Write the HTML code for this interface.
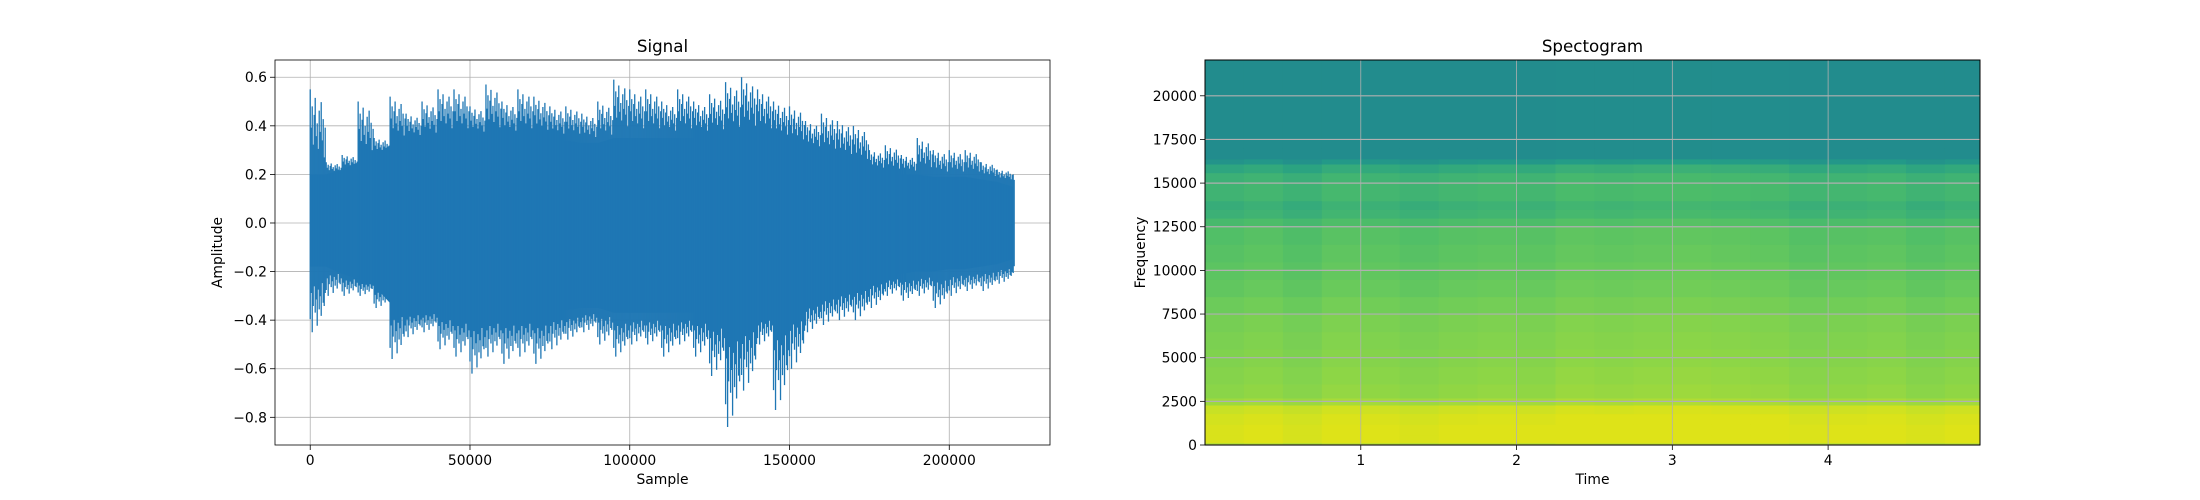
<!DOCTYPE html>
<html><head><meta charset="utf-8"><style>
html,body{margin:0;padding:0;background:#fff;}
svg{display:block;font-family:"DejaVu Sans","Liberation Sans",sans-serif;}
</style></head><body>
<svg id="fig" width="2200" height="500" viewBox="0 0 2200 500" xmlns="http://www.w3.org/2000/svg">
<rect width="2200" height="500" fill="#fff"/>
<defs><clipPath id="specclip"><rect x="1205" y="60" width="775" height="385"/></clipPath></defs>
<g id="sig"></g>
<g id="spec"></g>
</svg>
<script>
// ---- Signal data (per 5000 samples) ----
const sampleSteps = [0,5000,10000,15000,20000,25000,30000,35000,40000,45000,50000,55000,60000,65000,70000,75000,80000,85000,90000,95000,100000,105000,110000,115000,120000,125000,130000,135000,140000,145000,150000,155000,160000,165000,170000,175000,180000,185000,190000,195000,200000,205000,210000,215000,220000];
const peakHi = [0.55,0.25,0.28,0.5,0.35,0.52,0.45,0.5,0.55,0.55,0.48,0.57,0.5,0.55,0.52,0.48,0.48,0.45,0.5,0.59,0.55,0.55,0.5,0.55,0.5,0.53,0.58,0.6,0.55,0.5,0.48,0.42,0.45,0.42,0.4,0.3,0.32,0.28,0.35,0.3,0.3,0.3,0.25,0.22,0.2];
const peakLo = [-0.45,-0.3,-0.3,-0.3,-0.35,-0.56,-0.47,-0.45,-0.52,-0.55,-0.62,-0.55,-0.58,-0.55,-0.58,-0.52,-0.48,-0.45,-0.5,-0.55,-0.5,-0.5,-0.55,-0.5,-0.55,-0.63,-0.84,-0.69,-0.5,-0.77,-0.6,-0.45,-0.42,-0.4,-0.4,-0.35,-0.3,-0.32,-0.3,-0.35,-0.3,-0.28,-0.28,-0.25,-0.22];
const bodyHi = [0.2,0.2,0.22,0.25,0.28,0.32,0.34,0.34,0.35,0.35,0.35,0.35,0.35,0.35,0.35,0.34,0.34,0.33,0.33,0.35,0.35,0.35,0.35,0.35,0.35,0.35,0.35,0.35,0.35,0.33,0.31,0.29,0.27,0.25,0.23,0.21,0.2,0.2,0.2,0.19,0.19,0.19,0.18,0.17,0.15];
const bodyLo = [-0.18,-0.18,-0.21,-0.23,-0.26,-0.33,-0.35,-0.35,-0.36,-0.37,-0.37,-0.37,-0.37,-0.37,-0.37,-0.36,-0.36,-0.35,-0.35,-0.37,-0.37,-0.37,-0.37,-0.37,-0.37,-0.37,-0.37,-0.37,-0.37,-0.36,-0.34,-0.31,-0.28,-0.26,-0.24,-0.22,-0.21,-0.21,-0.2,-0.2,-0.19,-0.19,-0.18,-0.17,-0.15];
const sigXTicks = [0,50000,100000,150000,200000];
const sigXLabels = ["0","50000","100000","150000","200000"];
const sigYTicks = [0.6,0.4,0.2,0.0,-0.2,-0.4,-0.6,-0.8];
const sigYLabels = ["0.6","0.4","0.2","0.0","\u22120.2","\u22120.4","\u22120.6","\u22120.8"];
// ---- Spectrogram data ----
const freqBands = [0,150,600,1200,1800,2300,2700,3500,4500,5500,6500,7500,8500,9500,10500,11500,12500,13000,13500,14000,15000,15600,16100,16400,17000,22050];
const bandLevel = [0.84,0.9,0.9,0.89,0.87,0.8,0.77,0.76,0.75,0.74,0.73,0.71,0.69,0.68,0.67,0.66,0.64,0.61,0.6,0.62,0.61,0.58,0.53,0.5,0.5,0.5];
const timeCols = [0,0.25,0.5,0.75,1,1.25,1.5,1.75,2,2.25,2.5,2.75,3,3.25,3.5,3.75,4,4.25,4.5,4.75,4.975];
const colMod = [-0.01,0,-0.015,0.005,0,-0.01,0,0.005,0,0.015,0.01,0.015,0.02,0.015,0.01,-0.005,0,0.005,-0.01,0];
const specXTicks = [1,2,3,4];
const specYTicks = [0,2500,5000,7500,10000,12500,15000,17500,20000];

const NS="http://www.w3.org/2000/svg";
function mk(tag,attrs,parent){const e=document.createElementNS(NS,tag);for(const k in attrs)e.setAttribute(k,attrs[k]);parent.appendChild(e);return e;}
function txt(s,attrs,parent){const e=mk('text',attrs,parent);e.textContent=s;return e;}

// ---------- Signal ----------
const sig=document.getElementById('sig');
const L={x0:275,x1:1050,y0:60,y1:445};
const sx=v=>L.x0+(v+11025)/(242550)*(L.x1-L.x0);
const sy=v=>L.y0+(0.671-v)/(0.671+0.914)*(L.y1-L.y0);
// grid first (below data)
sigXTicks.forEach((t,i)=>{
  const g=mk('line',{x1:sx(t),x2:sx(t),y1:L.y0,y2:L.y1,stroke:'#b0b0b0','stroke-width':0.8},sig);
  
});
sigYTicks.forEach((t,i)=>{
  const g=mk('line',{x1:L.x0,x2:L.x1,y1:sy(t),y2:sy(t),stroke:'#b0b0b0','stroke-width':0.8},sig);
  
});
let d='';
sampleSteps.forEach((s,i)=>{d+=(i?'L':'M')+sx(s).toFixed(1)+','+sy(bodyHi[i]).toFixed(1);});
for(let i=sampleSteps.length-1;i>=0;i--)d+='L'+sx(sampleSteps[i]).toFixed(1)+','+sy(bodyLo[i]).toFixed(1);
const body=mk('path',{d:d+'Z',fill:'#1f77b4'},sig);


const fh=[1,0.55,0.8,0.35,0.7,0.9,0.45,0.6,0.3,0.75,0.5,0.85,0.4,0.65,0.2,0.55];
const fl=[0.8,0.4,1,0.6,0.3,0.7,0.5,0.9,0.35,0.65,0.45,0.75,0.25,0.55,0.6,0.4];
sampleSteps.forEach((s,i)=>{
  for(let k=0;k<16;k++){
    const xs=s+k*312.5;
    if(xs>220500)continue;
    const hi=bodyHi[i]+(peakHi[i]-bodyHi[i])*fh[k];
    const lo=bodyLo[i]+(peakLo[i]-bodyLo[i])*fl[k];
    const ln=mk('line',{x1:sx(xs),x2:sx(xs),y1:sy(hi),y2:sy(lo),stroke:'#1f77b4','stroke-width':1.3},sig);
    
    
  }
});
sigXTicks.forEach((t,i)=>{
  mk('line',{x1:sx(t),x2:sx(t),y1:L.y1,y2:L.y1+5,stroke:'#000','stroke-width':0.8},sig);
  const tl=txt(sigXLabels[i],{x:sx(t),y:L.y1+20,'font-size':13.9,'text-anchor':'middle'},sig);
  
});
sigYTicks.forEach((t,i)=>{
  mk('line',{x1:L.x0-5,x2:L.x0,y1:sy(t),y2:sy(t),stroke:'#000','stroke-width':0.8},sig);
  const tl=txt(sigYLabels[i],{x:L.x0-8,y:sy(t)+5,'font-size':13.9,'text-anchor':'end'},sig);
  
});
mk('rect',{x:L.x0,y:L.y0,width:L.x1-L.x0,height:L.y1-L.y0,fill:'none',stroke:'#000','stroke-width':0.8,},sig);
txt('Signal',{x:(L.x0+L.x1)/2,y:52,'font-size':16.7,'text-anchor':'middle',},sig);
txt('Sample',{x:(L.x0+L.x1)/2,y:484,'font-size':13.9,'text-anchor':'middle',},sig);
txt('Amplitude',{x:0,y:0,'font-size':13.9,'text-anchor':'middle',transform:'translate(222,'+((L.y0+L.y1)/2)+') rotate(-90)',},sig);

// ---------- Spectrogram ----------
const spec=document.getElementById('spec');
const R={x0:1205,x1:1980,y0:60,y1:445};
const tx=v=>R.x0+v/4.975*(R.x1-R.x0);
const fy=v=>R.y1-v/22050*(R.y1-R.y0);
const vir=[[0.5,[34,140,141]],[0.55,[36,158,134]],[0.6,[60,176,118]],[0.64,[76,188,105]],[0.7,[108,203,90]],[0.76,[138,213,72]],[0.85,[195,224,40]],[0.9,[222,227,24]]];
function cmap(v){
  if(v<=vir[0][0])return 'rgb('+vir[0][1]+')';
  for(let i=1;i<vir.length;i++){if(v<=vir[i][0]){const a=vir[i-1],b=vir[i],t=(v-a[0])/(b[0]-a[0]);return 'rgb('+a[1].map((c,j)=>Math.round(c+(b[1][j]-c)*t)).join(',')+')';}}
  return 'rgb('+vir[vir.length-1][1]+')';
}
const cells=mk('g',{'clip-path':'url(#specclip)'},spec);
for(let r=0;r<freqBands.length-1;r++){
  for(let c=0;c<timeCols.length-1;c++){
    const v=bandLevel[r]+(bandLevel[r]>0.52?colMod[c]:colMod[c]*0.2);
    const x=tx(timeCols[c]),w=tx(timeCols[c+1])-x;
    const y=fy(freqBands[r+1]),h=fy(freqBands[r])-y;
    const cell=mk('rect',{x:x.toFixed(1),y:y.toFixed(1),width:(w+0.6).toFixed(1),height:(h+0.6).toFixed(1),fill:cmap(v)},cells);
    
    
  }
}
specXTicks.forEach(t=>{
  const g=mk('line',{x1:tx(t),x2:tx(t),y1:R.y0,y2:R.y1,stroke:'#b0b0b0','stroke-width':0.8},spec);
  
  mk('line',{x1:tx(t),x2:tx(t),y1:R.y1,y2:R.y1+5,stroke:'#000','stroke-width':0.8},spec);
  const tl=txt(String(t),{x:tx(t),y:R.y1+20,'font-size':13.9,'text-anchor':'middle'},spec);
  
});
specYTicks.forEach(t=>{
  const g=mk('line',{x1:R.x0,x2:R.x1,y1:fy(t),y2:fy(t),stroke:'#b0b0b0','stroke-width':1.2},spec);
  
  mk('line',{x1:R.x0-5,x2:R.x0,y1:fy(t),y2:fy(t),stroke:'#000','stroke-width':0.8},spec);
  const tl=txt(String(t),{x:R.x0-8,y:fy(t)+5,'font-size':13.9,'text-anchor':'end'},spec);
  
});
mk('rect',{x:R.x0,y:R.y0,width:R.x1-R.x0,height:R.y1-R.y0,fill:'none',stroke:'#000','stroke-width':1,},spec);
txt('Spectogram',{x:(R.x0+R.x1)/2,y:52,'font-size':16.7,'text-anchor':'middle',},spec);
txt('Time',{x:(R.x0+R.x1)/2,y:484,'font-size':13.9,'text-anchor':'middle',},spec);
txt('Frequency',{x:0,y:0,'font-size':13.9,'text-anchor':'middle',transform:'translate(1145,'+((R.y0+R.y1)/2)+') rotate(-90)',},spec);
</script>
</body></html>
